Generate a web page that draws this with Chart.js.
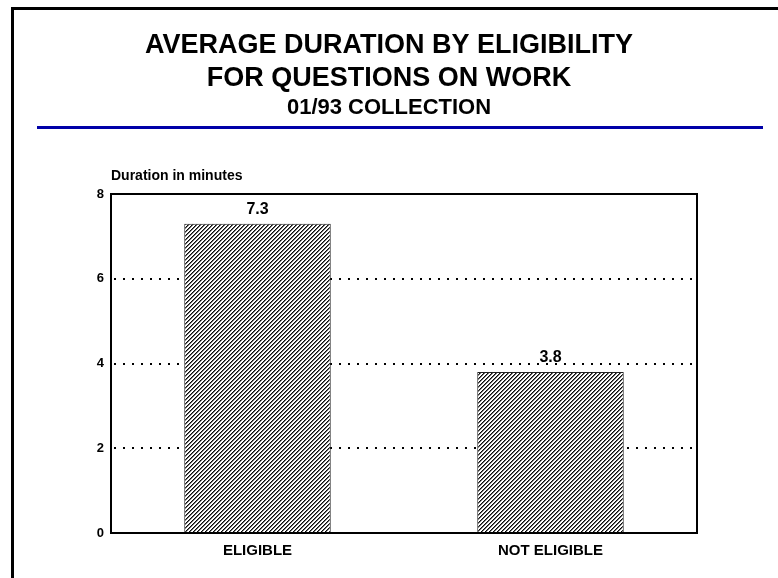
<!DOCTYPE html>
<html>
<head>
<meta charset="utf-8">
<script src="https://cdn.jsdelivr.net/npm/chart.js@4"></script>
<style>
  html, body { margin: 0; padding: 0; background: #fff; }
  #wrap { width: 778px; height: 578px; position: relative; }
</style>
</head>
<body>
<div id="wrap"><canvas id="c" width="778" height="578"></canvas></div>
<script>
const categories = ['ELIGIBLE', 'NOT ELIGIBLE'];
const durations = [7.3, 3.8];
const yTicks = [0, 2, 4, 6, 8];
const titleLines = ['AVERAGE DURATION BY ELIGIBILITY', 'FOR QUESTIONS ON WORK'];
const subtitleText = '01/93 COLLECTION';
const yAxisLabel = 'Duration in minutes';

const FONT = "'Liberation Sans', Arial, Helvetica, sans-serif";

function makeHatch() {
  const size = 4;
  const c = document.createElement('canvas');
  c.width = size; c.height = size;
  const g = c.getContext('2d');
  const img = g.createImageData(size, size);
  for (let y = 0; y < size; y++) {
    for (let x = 0; x < size; x++) {
      const k = (x + y) % 4;
      const v = k === 0 ? 10 : (k === 1 ? 110 : 255);
      const i = (y * size + x) * 4;
      img.data[i] = v; img.data[i + 1] = v; img.data[i + 2] = v; img.data[i + 3] = 255;
    }
  }
  g.putImageData(img, 0, 0);
  return document.getElementById('c').getContext('2d').createPattern(c, 'repeat');
}

const decor = {
  id: 'decor',
  beforeDraw(chart) {
    const ctx = chart.ctx;
    ctx.save();
    ctx.fillStyle = '#fff';
    ctx.fillRect(0, 0, chart.width, chart.height);
    // outer frame (left and top)
    ctx.fillStyle = '#000';
    ctx.fillRect(11, 7, 3, chart.height - 7);
    ctx.fillRect(11, 7, chart.width - 11, 3);
    // blue rule under titles
    ctx.fillStyle = '#0000a8';
    ctx.fillRect(37, 126, 726, 3);
    ctx.restore();
  },
  afterDatasetsDraw(chart) {
    const ctx = chart.ctx;
    const a = chart.chartArea;
    ctx.save();
    // value labels
    const meta = chart.getDatasetMeta(0);
    ctx.fillStyle = '#000';
    ctx.font = 'bold 16px ' + FONT;
    ctx.textAlign = 'center';
    ctx.textBaseline = 'bottom';
    meta.data.forEach((bar, i) => {
      ctx.fillText(durations[i].toFixed(1), bar.x, bar.y - 6);
    });
    // plot box
    ctx.strokeStyle = '#000';
    ctx.lineWidth = 2;
    ctx.strokeRect(a.left, a.top, a.right - a.left, a.bottom - a.top);
    // y axis caption
    ctx.font = 'bold 14px ' + FONT;
    ctx.textAlign = 'left';
    ctx.textBaseline = 'middle';
    ctx.fillText(yAxisLabel, a.left, 176);
    ctx.restore();
  }
};

const ctx = document.getElementById('c').getContext('2d');
new Chart(ctx, {
  type: 'bar',
  data: {
    labels: categories,
    datasets: [{
      data: durations,
      backgroundColor: makeHatch(),
      borderColor: '#222',
      borderWidth: 1,
      barPercentage: 0.5,
      categoryPercentage: 1.0
    }]
  },
  options: {
    responsive: false,
    animation: false,
    layout: { padding: 0 },
    plugins: {
      legend: { display: false },
      tooltip: { enabled: false },
      title: {
        display: true,
        text: titleLines,
        color: '#000',
        font: { family: FONT, size: 27, weight: 'bold', lineHeight: 33 / 27 },
        padding: { top: 29, bottom: 0 }
      },
      subtitle: {
        display: true,
        text: subtitleText,
        color: '#000',
        font: { family: FONT, size: 22, weight: 'bold', lineHeight: 1.0 },
        padding: { top: 2, bottom: 75 }
      }
    },
    scales: {
      x: {
        grid: { display: false, drawTicks: false },
        border: { display: false },
        ticks: { color: '#000', font: { family: FONT, size: 15, weight: 'bold' }, padding: 9 },
        afterFit(scale) { scale.height = 45; }
      },
      y: {
        min: 0,
        max: 8,
        afterBuildTicks(scale) { scale.ticks = yTicks.map(v => ({ value: v })); },
        grid: {
          drawTicks: false,
          color: c => (c.tick && (c.tick.value === 0 || c.tick.value === 8)) ? 'rgba(0,0,0,0)' : '#000',
          lineWidth: 2
        },
        border: { display: false, dash: [2, 7], dashOffset: -3 },
        ticks: { color: '#000', font: { family: FONT, size: 13, weight: 'bold' }, padding: 7 },
        afterFit(scale) { scale.width = 111; }
      },
      yRight: {
        position: 'right',
        display: true,
        grid: { display: false, drawTicks: false },
        border: { display: false },
        ticks: { display: false },
        afterFit(scale) { scale.width = 81; }
      }
    }
  },
  plugins: [decor]
});
</script>
</body>
</html>
